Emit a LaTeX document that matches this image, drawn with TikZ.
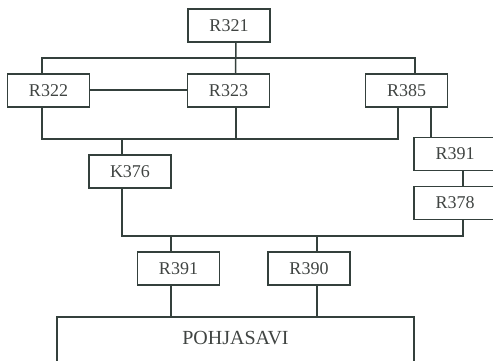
\documentclass[tikz,border=0pt]{standalone}
\usepackage{fontspec}
\setmainfont{Liberation Serif}
\usepackage{xcolor}
\definecolor{ink}{RGB}{52,64,60}
\definecolor{txt}{RGB}{64,68,66}

\tikzset{
	box/.style={draw=ink, line width=1.5pt, rectangle, minimum width=82pt, minimum height=33pt, inner sep=0pt, text=txt, font=\fontsize{18}{18}\selectfont},
	wire/.style={draw=ink, line width=1.5pt}
}

\begin{document}
\begin{tikzpicture}[x=1pt,y=-1pt]
				\useasboundingbox (0,0) rectangle (493,361);
				\clip (0,0) rectangle (493,361);
				
				\coordinate (bus1) at (0,58);
				\coordinate (bus2) at (0,139);
				\coordinate (bus3) at (0,236);
				
				\node (R321) at (229,25.5) [box] {R321};
				\node (R322) at (48.5,90.5) [box] {R322};
				\node (R323) at (228.5,90.5) [box] {R323};
				\node (R385) at (406.5,90.5) [box] {R385};
				\node (K376) at (130,171.5) [box] {K376};
				\node (R391b) at (455,154) [box] {R391};
				\node (R378) at (455,203) [box] {R378};
				\node (R391) at (178.5,268.5) [box] {R391};
				\node (R390) at (309,268.5) [box] {R390};
				
				\node (POH) at (235.5,316) [box, anchor=north, minimum width=357pt, inner ysep=0pt, text height=28pt, text depth=45pt, font=\fontsize{20}{20}\selectfont] {POHJASAVI};
				
				
				\draw[wire] ([xshift=7pt]R321.south) -- ([xshift=7pt]R323.north);
				\draw[wire] ([xshift=-6.5pt]R322.north) -- ([xshift=-6.5pt]R322.north |- bus1) -- ([xshift=8.5pt]R385.north |- bus1) -- ([xshift=8.5pt]R385.north);
				\draw[wire] ([yshift=0.5pt]R322.east) -- ([yshift=0.5pt]R323.west);
				
				\draw[wire] ([xshift=-6.5pt]R322.south) -- ([xshift=-6.5pt]R322.south |- bus2) -- ([xshift=-8.5pt]R385.south |- bus2) -- ([xshift=-8.5pt]R385.south);
				\draw[wire] ([xshift=7.5pt]R323.south) -- ([xshift=7.5pt]R323.south |- bus2);
				\draw[wire] ([xshift=-8pt]K376.north) -- ([xshift=-8pt]K376.north |- bus2);
				
				\draw[wire] ([xshift=24.5pt]R385.south) -- ([xshift=24.5pt]R385.south |- R391b.north);
				\draw[wire] ([xshift=8pt]R391b.south) -- ([xshift=8pt]R378.north);
				
				\draw[wire] ([xshift=-8pt]K376.south) -- ([xshift=-8pt]K376.south |- bus3) -- ([xshift=8pt]R378.south |- bus3) -- ([xshift=8pt]R378.south);
				\draw[wire] ([xshift=-7.5pt]R391.north) -- ([xshift=-7.5pt]R391.north |- bus3);
				\draw[wire] ([xshift=8pt]R390.north) -- ([xshift=8pt]R390.north |- bus3);
				
				\draw[wire] ([xshift=-7.5pt]R391.south) -- ([xshift=-7.5pt]R391.south |- POH.north);
				\draw[wire] ([xshift=8pt]R390.south) -- ([xshift=8pt]R390.south |- POH.north);
			\end{tikzpicture}
\end{document}
